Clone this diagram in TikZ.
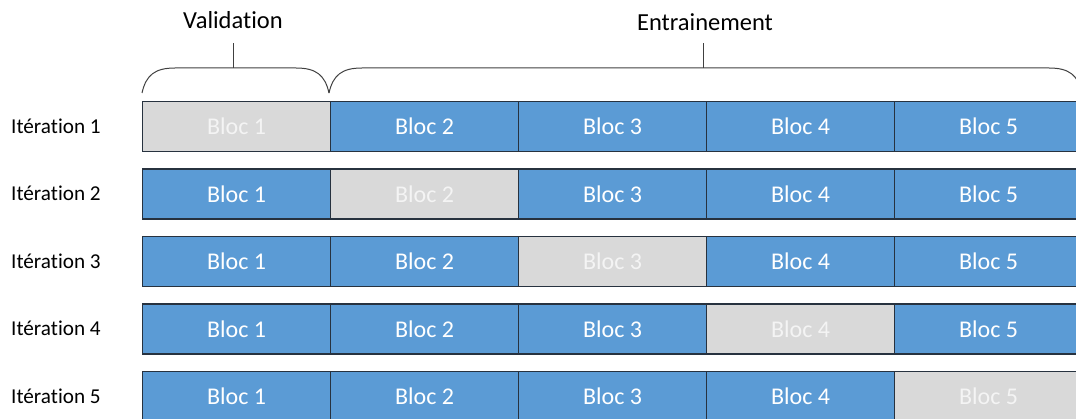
\documentclass[tikz,border=0pt]{standalone}
\usepackage{fontspec}
\setmainfont[Ligatures={NoCommon}]{Carlito}
\definecolor{blk}{HTML}{5B9BD5}
\definecolor{gry}{HTML}{D9D9D9}
\definecolor{edge}{HTML}{27323F}
\definecolor{gtxt}{HTML}{F4F4F4}
\begin{document}
\begin{tikzpicture}[x=1pt,y=-1pt,
  cell/.style={draw=edge,line width=1.3pt,minimum width=188pt,minimum height=50pt,inner sep=0pt,anchor=north west,font=\fontsize{24}{28}\selectfont},
  train/.style={cell,fill=blk,text=white},
  valid/.style={cell,fill=gry,text=gtxt},
  itlabel/.style={anchor=west,font=\fontsize{21.2}{24}\selectfont,text=black,inner sep=0pt},
  brace/.style={draw=black!75,line width=1pt},
  title/.style={font=\fontsize{24.5}{28}\selectfont,text=black,inner sep=0pt}]
\useasboundingbox (0,0) rectangle (1076,419);
\begin{scope}
\clip (0,0) rectangle (1076,419);
\foreach \r/\y in {1/101,2/168.5,3/236,4/303.5,5/371}{
  \node[itlabel] (it\r) at (11,\y+25) {Itération \r};
  \foreach \c in {1,...,5}{
    \pgfmathsetmacro{\xx}{142+(\c-1)*188}
    \ifnum\c=\r
      \node[valid] (b\r\c) at (\xx,\y) {Bloc \c};
    \else
      \node[train] (b\r\c) at (\xx,\y) {Bloc \c};
    \fi
  }
}
% braces
\coordinate (v0) at (142,93);
\coordinate (v1) at (329,93);
\coordinate (e0) at (329,93);
\coordinate (e1) at (1082,93);
\draw[brace] (v0) .. controls (146,75) and (155,68) .. (175,68) -- (296,68) .. controls (316,68) and (325,75) .. (v1);
\draw[brace] (e0) .. controls (333,75) and (342,68) .. (362,68) -- (1049,68) .. controls (1069,68) and (1078,75) .. (e1);
\coordinate (vt) at (233,68);
\coordinate (vtt) at (233,43);
\coordinate (et) at (703,68);
\coordinate (ett) at (703,43);
\draw[brace] (vt) -- (vtt);
\draw[brace] (et) -- (ett);
\end{scope}
\node[title] (tv) at (233,20) {Validation};
\node[title] (te) at (705,22) {Entrainement};
\end{tikzpicture}
\end{document}
